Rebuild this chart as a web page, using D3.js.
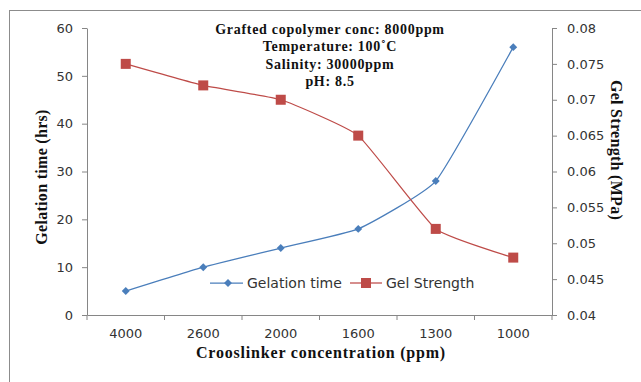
<!DOCTYPE html>
<html lang="en">
<head>
<meta charset="UTF-8">
<title>Gelation time and gel strength</title>
<style>
  html, body { margin: 0; padding: 0; background: #fff; }
  svg { display: block; }
  .tick text { font-family: "DejaVu Sans", Verdana, sans-serif; font-size: 13px; fill: #333; }
  .ttl { font-family: "Liberation Serif", "Times New Roman", serif; font-weight: bold; font-size: 16px; fill: #111; }
  .note { font-family: "Liberation Serif", "Times New Roman", serif; font-weight: bold; font-size: 14px; fill: #111; }
  .leg { font-family: "DejaVu Sans", Verdana, sans-serif; font-size: 14px; fill: #333; }
</style>
</head>
<body>
<svg id="chart" width="641" height="382"></svg>
<script src="https://d3js.org/d3.v7.min.js"></script>
<script>
// data
var concentrations = ['4000', '2600', '2000', '1600', '1300', '1000'];
var gelationTime = [5, 10, 14, 18, 28, 56];
var gelStrength = [0.075, 0.072, 0.07, 0.065, 0.052, 0.048];
var leftTicks = [0, 10, 20, 30, 40, 50, 60];
var rightTicks = [0.04, 0.045, 0.05, 0.055, 0.06, 0.065, 0.07, 0.075, 0.08];
var notes = ['Grafted copolymer conc: 8000ppm', 'Temperature: 100\u02DAC', 'Salinity: 30000ppm', 'pH: 8.5'];

function drawChart() {
  var blue = '#4a7ebb', red = '#be4b48';
  var svg = d3.select('#chart');

  // outer frame (right and bottom edges fall outside the picture)
  svg.append('rect')
    .attr('x', 9.5).attr('y', 10.5)
    .attr('width', 640).attr('height', 380)
    .attr('fill', 'none').attr('stroke', '#8c8c8c');

  var plotL = 87, plotR = 552, plotT = 28, plotB = 315;

  var x = d3.scaleBand().domain(concentrations).range([plotL, plotR]);
  var yL = d3.scaleLinear().domain([0, 60]).range([plotB, plotT]);
  var yR = d3.scaleLinear().domain([0.04, 0.08]).range([plotB, plotT]);

  // axes
  var xAxis = svg.append('g')
    .attr('transform', 'translate(0,' + plotB + ')')
    .call(d3.axisBottom(x).tickSize(0).tickPadding(14));
  xAxis.select('.domain').attr('stroke', '#868686');
  // tick marks between categories
  xAxis.selectAll('.sep')
    .data(d3.range(concentrations.length + 1))
    .enter().append('line')
    .attr('x1', function(i) { return plotL + i * x.step(); })
    .attr('x2', function(i) { return plotL + i * x.step(); })
    .attr('y1', 0).attr('y2', 5)
    .attr('stroke', '#868686');

  var lAxis = svg.append('g')
    .attr('transform', 'translate(' + plotL + ',0)')
    .call(d3.axisLeft(yL).tickValues(leftTicks).tickSize(5).tickPadding(9).tickSizeOuter(0));
  lAxis.selectAll('line, .domain').attr('stroke', '#868686');

  var rAxis = svg.append('g')
    .attr('transform', 'translate(' + plotR + ',0)')
    .call(d3.axisRight(yR).tickValues(rightTicks).tickSize(5).tickPadding(10).tickSizeOuter(0)
      .tickFormat(function(d) { return String(+d.toFixed(3)); }));
  rAxis.selectAll('line, .domain').attr('stroke', '#868686');

  // series lines (light smoothing like the original)
  var cx = function(d, i) { return x(concentrations[i]) + x.bandwidth() / 2; };
  var lineL = d3.line().x(cx).y(function(d) { return yL(d); }).curve(d3.curveCardinal.tension(0.6));
  var lineR = d3.line().x(cx).y(function(d) { return yR(d); }).curve(d3.curveCardinal.tension(0.6));

  svg.append('path').datum(gelationTime).attr('d', lineL)
    .attr('fill', 'none').attr('stroke', blue).attr('stroke-width', 1.25);
  svg.append('path').datum(gelStrength).attr('d', lineR)
    .attr('fill', 'none').attr('stroke', red).attr('stroke-width', 1.25);

  var diamond = d3.symbol().type(d3.symbolDiamond2).size(40);
  svg.selectAll('.pL').data(gelationTime).enter().append('path')
    .attr('d', diamond)
    .attr('transform', function(d, i) { return 'translate(' + cx(d, i) + ',' + yL(d) + ')'; })
    .attr('fill', blue);
  svg.selectAll('.pR').data(gelStrength).enter().append('rect')
    .attr('x', function(d, i) { return cx(d, i) - 5; })
    .attr('y', function(d) { return yR(d) - 5; })
    .attr('width', 10).attr('height', 10)
    .attr('fill', red);

  // titles
  svg.append('text').attr('class', 'ttl')
    .attr('transform', 'translate(47,177) rotate(-90)')
    .attr('text-anchor', 'middle').attr('letter-spacing', 0.3).text('Gelation time (hrs)');
  svg.append('text').attr('class', 'ttl')
    .attr('transform', 'translate(611,150) rotate(90)')
    .attr('text-anchor', 'middle').attr('letter-spacing', 0.3).text('Gel Strength (MPa)');
  svg.append('text').attr('class', 'ttl')
    .attr('x', 321).attr('y', 358)
    .attr('text-anchor', 'middle').attr('letter-spacing', 0.8)
    .text('Crooslinker concentration (ppm)');

  // conditions note
  svg.selectAll('.noteLine').data(notes).enter().append('text')
    .attr('class', 'note')
    .attr('x', 330).attr('y', function(d, i) { return 34 + i * 17.3; })
    .attr('text-anchor', 'middle').attr('letter-spacing', 0.7)
    .text(function(d) { return d; });

  // legend
  var lg = svg.append('g').attr('transform', 'translate(210,283)');
  lg.append('line').attr('x1', 0).attr('x2', 33).attr('stroke', blue).attr('stroke-width', 1.25);
  lg.append('path').attr('d', diamond).attr('transform', 'translate(18,0)').attr('fill', blue);
  lg.append('text').attr('class', 'leg').attr('x', 37).attr('y', 5).text('Gelation time');
  lg.append('line').attr('x1', 140).attr('x2', 172).attr('stroke', red).attr('stroke-width', 1.25);
  lg.append('rect').attr('x', 151).attr('y', -5).attr('width', 10).attr('height', 10).attr('fill', red);
  lg.append('text').attr('class', 'leg').attr('x', 176).attr('y', 5).text('Gel Strength');
}

drawChart();
</script>
</body>
</html>
